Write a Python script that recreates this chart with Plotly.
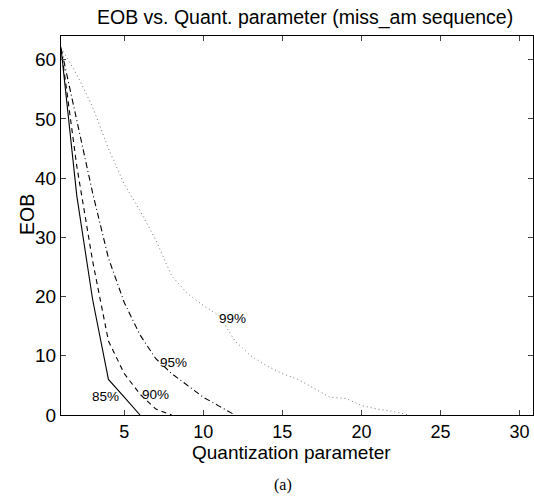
import plotly.graph_objects as go

# Data
eob85_x = [1, 2, 3, 4, 5, 6]
eob85 = [62, 37, 19.5, 6, 3, 0]
eob90_x = [1, 2, 3, 4, 5, 6, 7, 8]
eob90 = [62, 42, 26, 12.5, 7, 3.5, 1, 0]
eob95_x = [1, 2, 3, 4, 5, 6, 7, 8, 9, 10, 11, 12]
eob95 = [62, 50, 37.5, 26.5, 19, 13.5, 9.5, 7, 5, 3, 1.5, 0]
eob99_x = list(range(1, 24))
eob99 = [62, 57.5, 52, 45, 39, 34.5, 29.5, 23.5, 20.5, 18.5, 16.8, 12.5, 10,
         8.3, 7, 6, 4.5, 3, 2.8, 1.6, 1, 0.6, 0]

labels = ["85%", "90%", "95%", "99%"]
label_x = [3.84, 6.99, 8.14, 11.82]
label_y = [3.1, 3.4, 8.8, 16.3]

x_ticks = [5, 10, 15, 20, 25, 30]
y_ticks = [0, 10, 20, 30, 40, 50, 60]

FONT = "Liberation Sans, Arial, Helvetica, sans-serif"

fig = go.Figure()
fig.add_trace(go.Scatter(x=eob85_x, y=eob85, mode="lines",
                         line=dict(color="black", width=1.1, dash="solid")))
fig.add_trace(go.Scatter(x=eob90_x, y=eob90, mode="lines",
                         line=dict(color="black", width=1.1, dash="5px,4px")))
fig.add_trace(go.Scatter(x=eob95_x, y=eob95, mode="lines",
                         line=dict(color="black", width=1.1, dash="6px,3px,1px,3px")))
fig.add_trace(go.Scatter(x=eob99_x, y=eob99, mode="lines",
                         line=dict(color="#777777", width=1, dash="1px,3px")))

for t, lx, ly in zip(labels, label_x, label_y):
    fig.add_annotation(x=lx, y=ly, text=t, showarrow=False, xref="x", yref="y",
                       font=dict(family=FONT, size=13.5, color="black"))

W, H = 534, 497
L, R, T, B = 61, 1, 36, 82
pw, ph = W - L - R, H - T - B

def px2paper(px, py):
    return (px - L) / pw, 1 - (py - T) / ph

for text, px, py, fam, size, ang in [
    ("EOB vs. Quant. parameter (miss_am sequence)", 305, 17, FONT, 19.5, 0),
    ("Quantization parameter", 291, 452, FONT, 19, 0),
    ("EOB", 27, 215, FONT, 19.5, -90),
    ("(a)", 283, 485, "Liberation Serif, Times New Roman, serif", 16, 0),
]:
    xp, yp = px2paper(px, py)
    fig.add_annotation(text=text, x=xp, y=yp, xref="paper", yref="paper",
                       showarrow=False, textangle=ang, xanchor="center", yanchor="middle",
                       font=dict(family=fam, size=size, color="black"))

fig.update_layout(
    width=W, height=H,
    margin=dict(l=L, r=R, t=T, b=B),
    paper_bgcolor="white", plot_bgcolor="white",
    showlegend=False,
    font=dict(family=FONT, size=18, color="black"),
)

fig.update_xaxes(range=[1, 30.85], tickvals=x_ticks, ticks="inside", ticklen=5,
                 showline=True, linecolor="black", linewidth=1, mirror="allticks",
                 showgrid=False, zeroline=False, tickfont=dict(size=18))
fig.update_yaxes(range=[0, 64], tickvals=y_ticks, ticks="inside", ticklen=5,
                 showline=True, linecolor="black", linewidth=1, mirror="allticks",
                 showgrid=False, zeroline=False, tickfont=dict(size=19))

fig.write_html("out.html")
